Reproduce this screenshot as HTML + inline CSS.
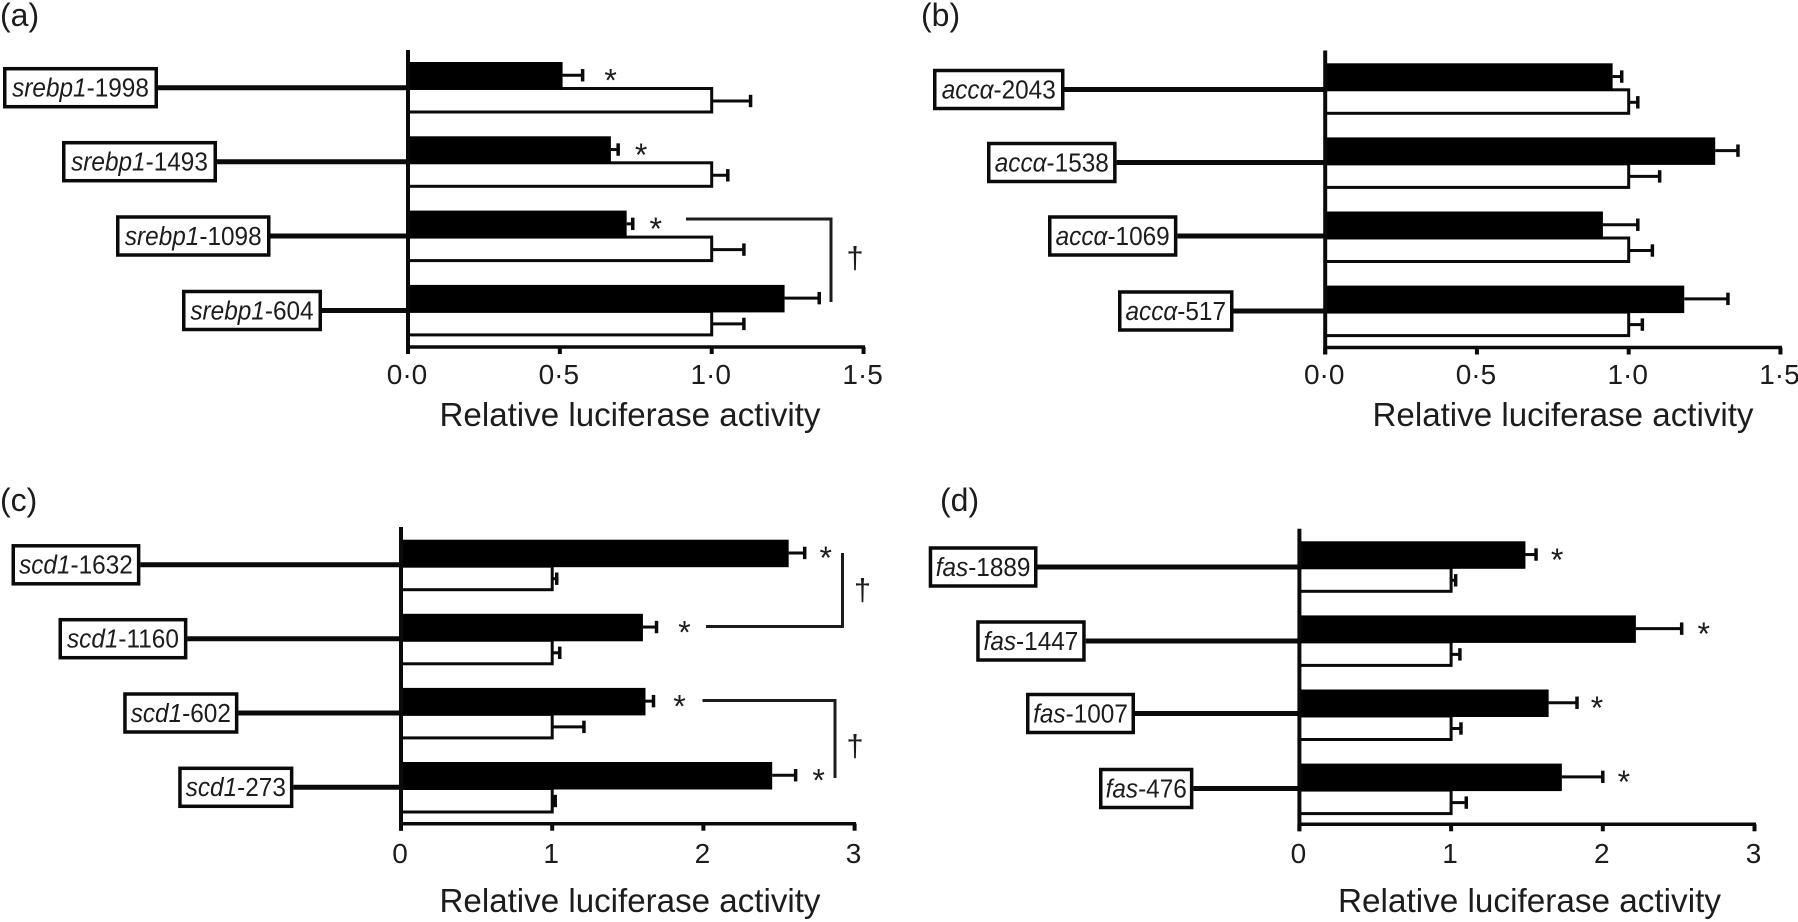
<!DOCTYPE html>
<html lang="en">
<head>
<meta charset="utf-8">
<title>Relative luciferase activity of promoter deletions</title>
<style>
html,body{margin:0;padding:0;background:#fff;}
svg{display:block;}
text{font-family:"Liberation Sans",sans-serif;fill:#1c1c1c;}
.panel-letter{font-size:32px;}
.axis-title{font-size:33px;}
.dagger{font-size:31px;text-anchor:middle;}
</style>
</head>
<body>
<svg id="chart" xmlns="http://www.w3.org/2000/svg" width="1798" height="922" viewBox="0 0 1798 922">
  <text class="panel-letter" x="0" y="26">(a)</text>
  <text class="panel-letter" x="921" y="26">(b)</text>
  <text class="panel-letter" x="0" y="511">(c)</text>
  <text class="panel-letter" x="940" y="511">(d)</text>

  <text class="axis-title" x="439.5" y="426" textLength="381" lengthAdjust="spacingAndGlyphs">Relative luciferase activity</text>
  <text class="axis-title" x="1372.5" y="426" textLength="381" lengthAdjust="spacingAndGlyphs">Relative luciferase activity</text>
  <text class="axis-title" x="439.5" y="912" textLength="381" lengthAdjust="spacingAndGlyphs">Relative luciferase activity</text>
  <text class="axis-title" x="1338" y="912" textLength="383" lengthAdjust="spacingAndGlyphs">Relative luciferase activity</text>

  <polyline points="686,219 831,219 831,302" fill="none" stroke="#1c1c1c" stroke-width="3"/>
  <text class="dagger" x="855" y="268">†</text>
  <polyline points="842.5,553 842.5,626.5 706,626.5" fill="none" stroke="#1c1c1c" stroke-width="3"/>
  <text class="dagger" x="862.5" y="600">†</text>
  <polyline points="702.5,700.5 835,700.5 835,778" fill="none" stroke="#1c1c1c" stroke-width="3"/>
  <text class="dagger" x="855" y="756">†</text>
</svg>
<script>
// ---- Chart data ----
const aCategories = ['srebp1-1998', 'srebp1-1493', 'srebp1-1098', 'srebp1-604'];
const aTreated = [0.509, 0.668, 0.72, 1.24];
const aTreatedError = [0.066, 0.024, 0.02, 0.114];
const aControl = [1, 1, 1, 1];
const aControlError = [0.128, 0.053, 0.106, 0.106];
const aStars = [true, true, true, false];
const aTicks = ['0·0', '0·5', '1·0', '1·5'];

const bCategories = ['accα-2043', 'accα-1538', 'accα-1069', 'accα-517'];
const bTreated = [0.947, 1.285, 0.915, 1.183];
const bTreatedError = [0.03, 0.075, 0.115, 0.144];
const bControl = [1, 1, 1, 1];
const bControlError = [0.03, 0.102, 0.078, 0.045];
const bStars = [false, false, false, false];
const bTicks = ['0·0', '0·5', '1·0', '1·5'];

const cCategories = ['scd1-1632', 'scd1-1160', 'scd1-602', 'scd1-273'];
const cTreated = [2.564, 1.6, 1.617, 2.455];
const cTreatedError = [0.106, 0.09, 0.053, 0.155];
const cControl = [1, 1, 1, 1];
const cControlError = [0.03, 0.05, 0.21, 0.02];
const cStars = [true, true, true, true];
const cTicks = ['0', '1', '2', '3'];

const dCategories = ['fas-1889', 'fas-1447', 'fas-1007', 'fas-476'];
const dTreated = [1.49, 2.218, 1.643, 1.73];
const dTreatedError = [0.07, 0.302, 0.187, 0.27];
const dControl = [1, 1, 1, 1];
const dControlError = [0.03, 0.058, 0.065, 0.1];
const dStars = [true, true, true, true];
const dTicks = ['0', '1', '2', '3'];

// ---- Layout (pixels, separate from data) ----
const panelLayouts = {
  a: {x0: 408, unit: 303.7, top: 50, base: 347, firstBar: 62, pitch: 74.3, tickY: 384,
      boxes: [[3, 158, 87.7], [62, 217, 161.7], [116, 270.5, 236], [182, 322, 310.5]],
      starGaps: [28, 23, 23, 0]},
  b: {x0: 1325.2, unit: 303.5, top: 50.5, base: 347.5, firstBar: 63.3, pitch: 74.1, tickY: 384,
      boxes: [[933, 1064.5, 89.5], [987, 1116.6, 162.5], [1048, 1177.4, 236], [1118, 1233.5, 311]],
      starGaps: [0, 0, 0, 0]},
  c: {x0: 401, unit: 151.2, top: 527, base: 823.7, firstBar: 539.7, pitch: 74.1, tickY: 863,
      boxes: [[11.5, 140.4, 564.8], [58.5, 187.4, 638.7], [123.2, 238.4, 713], [178.2, 293.4, 787.3]],
      starGaps: [21, 28, 26, 23]},
  d: {x0: 1299.4, unit: 151.7, top: 528.7, base: 824.3, firstBar: 541.3, pitch: 74.1, tickY: 863,
      boxes: [[928.7, 1037.5, 567], [976.2, 1085.7, 641], [1026, 1135, 713.5], [1099, 1193.4, 788.5]],
      starGaps: [21, 22, 20, 21]}
};
const blackHeight = 26.5;
const whiteHeight = 25;
const capHalf = 6.2;

const panels = [
  {key: 'a', categories: aCategories, treated: aTreated, treatedError: aTreatedError, control: aControl, controlError: aControlError, stars: aStars, ticks: aTicks},
  {key: 'b', categories: bCategories, treated: bTreated, treatedError: bTreatedError, control: bControl, controlError: bControlError, stars: bStars, ticks: bTicks},
  {key: 'c', categories: cCategories, treated: cTreated, treatedError: cTreatedError, control: cControl, controlError: cControlError, stars: cStars, ticks: cTicks},
  {key: 'd', categories: dCategories, treated: dTreated, treatedError: dTreatedError, control: dControl, controlError: dControlError, stars: dStars, ticks: dTicks}
];

const svg = document.getElementById('chart');
const NS = 'http://www.w3.org/2000/svg';

function drawLine(x1, y1, x2, y2, width, name) {
  const el = document.createElementNS(NS, 'line');
  
  
  el.setAttribute('x1', x1);
  el.setAttribute('y1', y1);
  el.setAttribute('x2', x2);
  el.setAttribute('y2', y2);
  el.setAttribute('stroke', '#0a0a0a');
  el.setAttribute('stroke-width', width);
  svg.appendChild(el);
  return el;
}

function drawRect(x, y, w, h, fill, strokeWidth, name) {
  const el = document.createElementNS(NS, 'rect');
  
  
  el.setAttribute('x', x);
  el.setAttribute('y', y);
  el.setAttribute('width', w);
  el.setAttribute('height', h);
  el.setAttribute('fill', fill);
  if (strokeWidth) {
    el.setAttribute('stroke', '#0a0a0a');
    el.setAttribute('stroke-width', strokeWidth);
  }
  svg.appendChild(el);
  return el;
}

function drawText(content, x, y, size, name) {
  const el = document.createElementNS(NS, 'text');
  
  
  el.setAttribute('x', x);
  el.setAttribute('y', y);
  el.setAttribute('font-size', size);
  el.setAttribute('text-anchor', 'middle');
  el.textContent = content;
  svg.appendChild(el);
  return el;
}

function drawPanel(p) {
  const layout = panelLayouts[p.key];
  const xScale = function (v) { return layout.x0 + v * layout.unit; };
  const blackTop = function (i) { return layout.firstBar + i * layout.pitch; };

  p.categories.forEach(function (category, i) {
    const box = layout.boxes[i];
    const slug = 'panel-' + p.key + '-' + category;

    // promoter stem
    drawLine(box[1], box[2], layout.x0, box[2], 5, slug + '-stem');

    // label box
    drawRect(box[0] + 1.75, box[2] - 19, box[1] - box[0] - 3.5, 38, '#fff', 3.5, slug + '-label-box');

    const parts = category.split('-');
    const label = drawText('', (box[0] + box[1]) / 2, box[2] + 8.8, 25.5, slug + '-label');
    const gene = document.createElementNS(NS, 'tspan');
    gene.setAttribute('font-style', 'italic');
    gene.textContent = parts[0];
    label.appendChild(gene);
    const position = document.createElementNS(NS, 'tspan');
    position.textContent = '-' + parts[1];
    label.appendChild(position);
    label.setAttribute('textLength', label.getComputedTextLength() * 0.955);
    label.setAttribute('lengthAdjust', 'spacingAndGlyphs');

    // treated (black) bar and error bar
    const top = blackTop(i);
    const blackMid = top + blackHeight / 2;
    const treatedEnd = xScale(p.treated[i] + p.treatedError[i]);
    drawLine(xScale(p.treated[i]), blackMid, treatedEnd, blackMid, 3, slug + '-treated-error');
    drawLine(treatedEnd, blackMid - capHalf, treatedEnd, blackMid + capHalf, 3.5, slug + '-treated-error-cap');

    // control (white) error bar
    const whiteTop = top + blackHeight;
    const whiteMid = whiteTop + whiteHeight / 2;
    const controlEnd = xScale(p.control[i] + p.controlError[i]);
    drawLine(xScale(p.control[i]), whiteMid, controlEnd, whiteMid, 3, slug + '-control-error');
    drawLine(controlEnd, whiteMid - capHalf, controlEnd, whiteMid + capHalf, 3.5, slug + '-control-error-cap');

    // control (white) bar
    drawRect(layout.x0, whiteTop, xScale(p.control[i]) - layout.x0, whiteHeight - 1.5, '#fff', 3, slug + '-control-bar');

    // treated (black) bar, on top
    drawRect(layout.x0, top, xScale(p.treated[i]) - layout.x0, blackHeight + 1, '#000', 0, slug + '-treated-bar');

    // significance star
    if (p.stars[i]) {
      drawText('*', treatedEnd + layout.starGaps[i], top + 29.5, 32, slug + '-significance-star');
    }
  });

  // axes
  drawLine(layout.x0, layout.top, layout.x0, layout.base + 7, 4, 'panel-' + p.key + '-y-axis');
  drawLine(layout.x0, layout.base, xScale(parseFloat(p.ticks[p.ticks.length - 1].replace('·', '.'))) + 1.5, layout.base, 3.5, 'panel-' + p.key + '-x-axis');
  p.ticks.forEach(function (tick) {
    const value = parseFloat(tick.replace('·', '.'));
    drawLine(xScale(value), layout.base, xScale(value), layout.base + 7, 4, 'panel-' + p.key + '-x-tick-' + tick);
    drawText(tick, xScale(value) - 1, layout.tickY, 28, 'panel-' + p.key + '-x-tick-label-' + tick);
  });
}

panels.forEach(drawPanel);
</script>
</body>
</html>
